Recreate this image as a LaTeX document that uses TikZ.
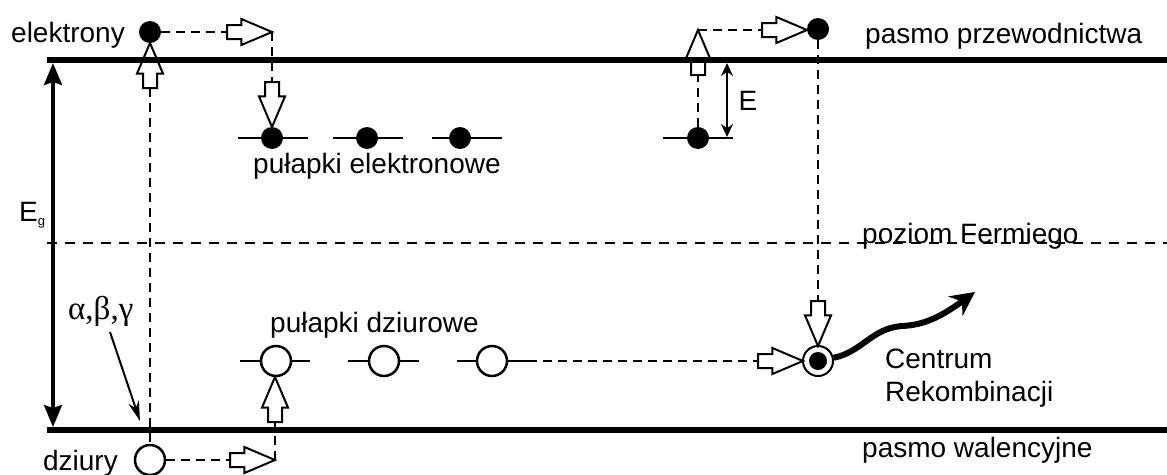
\documentclass[tikz,border=0pt]{standalone}
\usepackage{fontspec}
\setmainfont{Liberation Sans}
\newfontfamily\greek{Liberation Serif}
\usetikzlibrary{arrows.meta,shapes.arrows,positioning}

\begin{document}
\begin{tikzpicture}[x=1pt,y=-1pt
  ,font=\fontsize{28}{33}\selectfont
  ,txt/.style={inner sep=0pt}
  ,band/.style={line width=6pt}
  ,level/.style={line width=2.5pt}
  ,jump/.style={dash pattern=on 9pt off 6pt,line width=1.5pt}
  ,fermi/.style={dash pattern=on 10pt off 8pt,line width=1.2pt}
  ,electron/.style={circle,fill,inner sep=0pt,minimum size=22pt}
  ,hole/.style={circle,draw,fill=white,line width=2.5pt,inner sep=0pt,minimum size=30pt}
  ,push/.style={single arrow,draw,fill=white,line width=2pt
    ,inner xsep=0pt,inner ysep=6pt,outer sep=0pt,minimum height=45pt
    ,single arrow head extend=6pt,single arrow tip angle=46,anchor=tip}
  ,push up/.style={push,rotate=90}
  ,push down/.style={push,rotate=-90}
  ,gap/.style={<->,>={Stealth[length=22pt,width=18pt,inset=3pt]},line width=3.5pt}
  ,pointer/.style={->,>={Stealth[length=20pt,width=11pt]},line width=2pt}
  ,wave/.style={->,>={Stealth[length=24pt,width=24pt]},line width=6pt}]

  \useasboundingbox (0,0) rectangle (1167,474);

  % Fermi level
  \draw[fermi] (47,243) -- (1167,243);

  % trap levels
  \draw[level] (238,138) -- (308,138);
  \draw[level] (333,138) -- (403,138);
  \draw[level] (432,138) -- (502,138);
  \draw[level] (663,138) -- (733,138);
  \draw[level] (240,361) -- (310,361);
  \draw[level] (348,361) -- (419,361);
  \draw[level] (457,361) -- (528,361);
  \coordinate (h3r) at (528,361);

  % electrons and holes
  \node[electron] (el1) at (150,32) {};
  \node[electron] (el2) at (818,29) {};
  \node[electron] (e1) at (272,138) {};
  \node[electron] (e2) at (367,138) {};
  \node[electron] (e3) at (460,138) {};
  \node[electron] (e4) at (698,138) {};
  \node[hole] (hv) at (150,460) {};
  \node[hole] (h1) at (276,361) {};
  \node[hole] (h2) at (384,361) {};
  \node[hole] (h3) at (492,361) {};
  \node[hole,line width=2pt] (rc) at (818,361) {};
  \node[electron,minimum size=18pt] (rcin) at (rc) {};

  % transitions
  \node[push] (a1) at (272,32) {};
  \node[push down] (a2) at (272,127) {};
  \node[push up] (a3) at (150,43) {};
  \node[push] (a4) at (275,460) {};
  \node[push up] (a5) at (275,377) {};
  \node[push up] (a6) at (698,30) {};
  \node[push] (a7) at (807,30) {};
  \node[push down] (a8) at (818,346) {};
  \node[push] (a9) at (803,361) {};

  \draw[jump] (el1) -- (a1.tail);
  \draw[jump] (a1.tip) -- (a2.tail);
  \draw[jump] (a3.tail) -- (hv);
  \draw[jump] (hv) -- (a4.tail);
  \draw[jump] (a4.tip) -- (a5.tail);
  \draw[jump] (e4) -- (a6.tail);
  \draw[jump] (a6.tip) -- (a7.tail);
  \draw[jump] (el2) -- (a8.tail);
  \draw[jump] (h3r) -- (a9.tail);

  % band edges
  \draw[band] (47,60) -- (1167,60);
  \draw[band] (47,430) -- (1167,430);

  \coordinate (egTop) at (53,63);
  \coordinate (egBot) at (53,427);
  \draw[gap] (egTop) -- (egBot);
  \coordinate (eTop) at (727,63);
  \coordinate (eBot) at (727,137);
  \draw[gap,>={Stealth[length=13pt,width=12pt]},line width=2pt] (eTop) -- (eBot);

  \coordinate (abgTail) at (110,332);
  \coordinate (hit) at (140,421);
  \draw[pointer] (abgTail) -- (hit);

  \draw[wave] (rc) .. controls (862,352) and (872,328) .. (902,326)
    .. controls (925,325) and (942,316) .. (975,292);

  % labels
  \node[txt,anchor=base east] (elLbl) at (125,42) {elektrony};
  \node[txt,anchor=base east] (hvLbl) at (118,470) {dziury};
  \node[txt,anchor=base west] (cbLbl) at (865,43) {pasmo przewodnictwa};
  \node[txt,anchor=base west] (vbLbl) at (862,457) {pasmo walencyjne};
  \node[txt,anchor=base west] (efLbl) at (862,243) {poziom Fermiego};
  \node[txt,anchor=base west] (etLbl) at (253,173) {pułapki elektronowe};
  \node[txt,anchor=base west] (htLbl) at (270,332) {pułapki dziurowe};
  \node[txt,anchor=base west] (rcLbl1) at (885,368) {Centrum};
  \node[txt,anchor=base west] (rcLbl2) at (885,401) {Rekombinacji};
  \node[txt,anchor=base west] (egLbl) at (19,221)
    {E\raisebox{-4pt}{\fontsize{13}{13}\selectfont g}};
  \node[txt] (eLbl) at (748,101) {E};
  \node[txt,anchor=base west] (abgLbl) at (68,319)
    {\greek\fontsize{33}{33}\selectfont α,β,γ};

\end{tikzpicture}
\end{document}
